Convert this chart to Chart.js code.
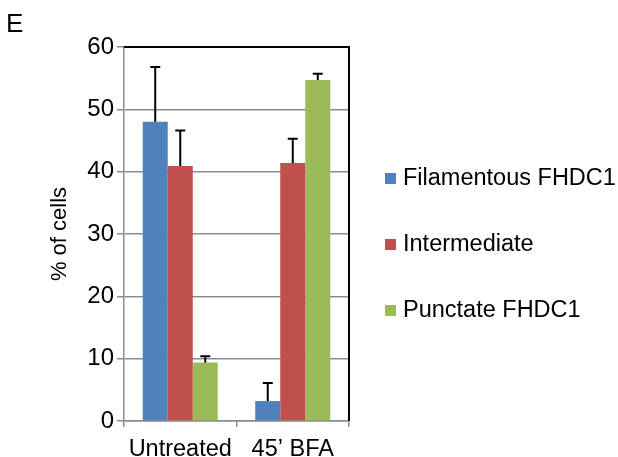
<!DOCTYPE html>
<html>
<head>
<meta charset="utf-8">
<script src="https://cdn.jsdelivr.net/npm/chart.js@4.4.1/dist/chart.umd.min.js"></script>
<style>
  html, body { margin: 0; padding: 0; background: #fff; }
  #wrap { width: 618px; height: 457px; }
</style>
</head>
<body>
<div id="wrap"><canvas id="cellChart" width="618" height="457"></canvas></div>
<script>
"use strict";

// values (% of cells, error bars are upward only)
var categories      = ["Untreated", "45\u2019 BFA"];
var seriesNames     = ["Filamentous FHDC1", "Intermediate", "Punctate FHDC1"];
var filamentous     = [48.0, 3.2];
var filamentousErr  = [8.8, 2.9];
var intermediate    = [40.9, 41.4];
var intermediateErr = [5.7, 3.9];
var punctate        = [9.4, 54.7];
var punctateErr     = [1.0, 1.0];
var yTicks          = [0, 10, 20, 30, 40, 50, 60];

var colors   = ["#4F81BD", "#C0504D", "#9BBB59"];
var fontName = "'Liberation Sans', Arial, sans-serif";

var errorBars = {
    id: "errorBars",
    afterDatasetsDraw: function (chart)
    {
        var ctx = chart.ctx;
        var y   = chart.scales.y;
        ctx.save();
        ctx.strokeStyle = "#000";
        ctx.lineWidth   = 2;
        chart.data.datasets.forEach(function (ds, di)
        {
            var meta = chart.getDatasetMeta(di);
            meta.data.forEach(function (bar, i)
            {
                var top = y.getPixelForValue(ds.data[i] + ds.errPlus[i]);
                ctx.beginPath();
                ctx.moveTo(bar.x, bar.y);
                ctx.lineTo(bar.x, top);
                ctx.moveTo(bar.x - 5, top);
                ctx.lineTo(bar.x + 5, top);
                ctx.stroke();
            });
        });
        ctx.restore();
    }
};

var frameAndLegend = {
    id: "frameAndLegend",
    afterDraw: function (chart)
    {
        var ctx  = chart.ctx;
        var area = chart.chartArea;
        ctx.save();

        // black plot-area border on top and right
        ctx.strokeStyle = "#000";
        ctx.lineWidth   = 2;
        ctx.beginPath();
        ctx.moveTo(area.left, area.top);
        ctx.lineTo(area.right, area.top);
        ctx.lineTo(area.right, area.bottom);
        ctx.stroke();

        // panel letter
        ctx.fillStyle    = "#000";
        ctx.font         = "26px " + fontName;
        ctx.textAlign    = "left";
        ctx.textBaseline = "alphabetic";
        ctx.fillText("E", 6, 32);

        // legend
        ctx.font         = "23.5px " + fontName;
        ctx.textBaseline = "middle";
        chart.data.datasets.forEach(function (ds, i)
        {
            var cy = 179 + i * 66;
            ctx.fillStyle = ds.backgroundColor;
            ctx.fillRect(385, cy - 6, 11, 11);
            ctx.fillStyle = "#000";
            ctx.fillText(ds.label, 403, cy);
        });
        ctx.restore();
    }
};

var whiteBg = {
    id: "whiteBg",
    beforeDraw: function (chart)
    {
        var ctx = chart.ctx;
        ctx.save();
        ctx.fillStyle = "#fff";
        ctx.fillRect(0, 0, chart.width, chart.height);
        ctx.restore();
    }
};

new Chart(document.getElementById("cellChart"), {
    type:    "bar",
    data:    {
        labels:   categories,
        datasets: [
            { label: seriesNames[0], data: filamentous,  errPlus: filamentousErr,  backgroundColor: colors[0] },
            { label: seriesNames[1], data: intermediate, errPlus: intermediateErr, backgroundColor: colors[1] },
            { label: seriesNames[2], data: punctate,     errPlus: punctateErr,     backgroundColor: colors[2] }
        ]
    },
    options: {
        responsive:          false,
        animation:           false,
        devicePixelRatio:    1,
        categoryPercentage:  0.667,
        barPercentage:       1.0,
        layout: {
            padding: { left: 0, top: 47, right: 269, bottom: 0 }
        },
        plugins: {
            legend:  { display: false },
            tooltip: { enabled: false }
        },
        scales: {
            x: {
                afterFit: function (s) { s.height = 36; },
                grid:     {
                    offset:          true,
                    drawOnChartArea: false,
                    drawTicks:       true,
                    tickLength:      6,
                    color:           "#8c8c8c",
                    lineWidth:       1.5
                },
                border:   { color: "#8c8c8c", width: 1.5 },
                ticks:    {
                    color:       "#000",
                    padding:     8,
                    maxRotation: 0,
                    font:        { family: fontName, size: 23.5 }
                }
            },
            y: {
                min:      0,
                max:      60,
                afterFit: function (s) { s.width = 124; },
                afterBuildTicks: function (s)
                {
                    s.ticks = yTicks.map(function (v) { return { value: v }; });
                },
                grid:     {
                    color:      "#8c8c8c",
                    lineWidth:  1.5,
                    drawTicks:  true,
                    tickLength: 7
                },
                border:   { color: "#8c8c8c", width: 1.5 },
                ticks:    {
                    color:   "#000",
                    padding: 3,
                    font:    { family: fontName, size: 24 }
                },
                title:    {
                    display: true,
                    text:    "% of cells",
                    color:   "#000",
                    padding: { top: 47, bottom: 0 },
                    font:    { family: fontName, size: 22 }
                }
            }
        }
    },
    plugins: [whiteBg, errorBars, frameAndLegend]
});
</script>
</body>
</html>
